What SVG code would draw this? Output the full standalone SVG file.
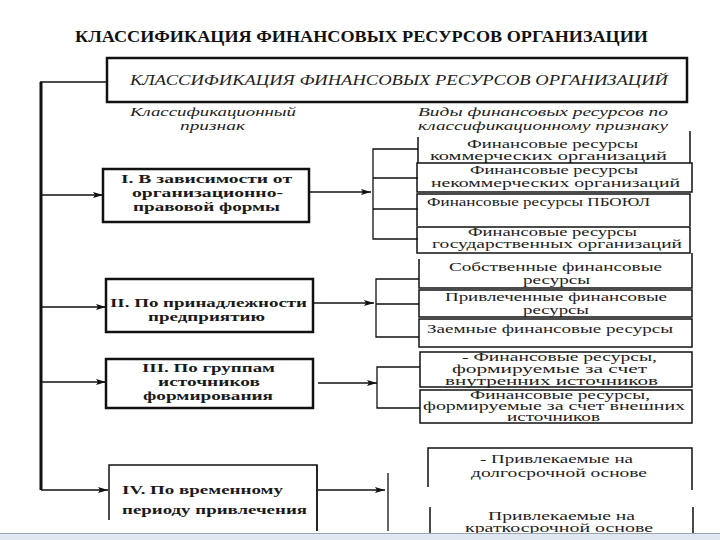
<svg xmlns="http://www.w3.org/2000/svg" width="720" height="540" viewBox="0 0 720 540">
<style>
.title{font-family:"Liberation Serif","Times New Roman",serif;font-weight:bold;font-size:16px;fill:#111}
.it{font-family:"Liberation Serif","Times New Roman",serif;font-style:italic;font-size:14px;fill:#222}
.sh{font-family:"Liberation Serif","Times New Roman",serif;font-style:italic;font-size:12.5px;fill:#222}
.b{font-family:"Liberation Serif","Times New Roman",serif;font-weight:bold;font-size:13px;fill:#1a1a1a}
.t{font-family:"Liberation Serif","Times New Roman",serif;font-size:11.5px;fill:#222}
.box{fill:none;stroke:#111;stroke-width:1.5}
.lbox{fill:none;stroke:#111;stroke-width:2.5}
.ln{fill:none;stroke:#111;stroke-width:1.3}
.arr{fill:none;stroke:#111;stroke-width:1.3;marker-end:url(#ah)}
</style>
<defs>
<marker id="ah" viewBox="0 0 10 6" refX="10" refY="3" markerWidth="10" markerHeight="6" markerUnits="userSpaceOnUse" orient="auto">
<path d="M0,0 L10,3 L0,6 L2,3 Z" fill="#111"/>
</marker>
</defs>
<rect width="720" height="540" fill="#fff"/>
<text class="title" x="75" y="42" textLength="573" lengthAdjust="spacingAndGlyphs">КЛАССИФИКАЦИЯ ФИНАНСОВЫХ РЕСУРСОВ ОРГАНИЗАЦИИ</text>

<g id="header">
<rect x="107" y="58" width="580" height="44" class="lbox" stroke-width="2"/>
<text class="it" x="130" y="85" textLength="538" lengthAdjust="spacingAndGlyphs">КЛАССИФИКАЦИЯ ФИНАНСОВЫХ РЕСУРСОВ ОРГАНИЗАЦИЙ</text>
</g>
<g id="subheads">
<text class="sh" x="130" y="116" textLength="166" lengthAdjust="spacingAndGlyphs">Классификационный</text>
<text class="sh" x="180" y="130" textLength="65" lengthAdjust="spacingAndGlyphs">признак</text>
<text class="sh" x="418" y="116" textLength="250" lengthAdjust="spacingAndGlyphs">Виды финансовых ресурсов по</text>
<text class="sh" x="418" y="130" textLength="250" lengthAdjust="spacingAndGlyphs">классификационному признаку</text>
</g>

<g id="connectors">
<path d="M41,82 V490" fill="none" stroke="#111" stroke-width="3"/>
<path d="M40,82 H107" class="ln" stroke-width="2"/>
<path d="M42,195 H103" class="arr"/>
<path d="M42,307 H106" class="arr"/>
<path d="M42,382 H106" class="arr"/>
<path d="M41,490 H108" class="arr"/>
<path d="M310,192 H371" class="arr"/>
<path d="M314,303 H374" class="arr"/>
<path d="M318,383 H377" class="arr" stroke-width="2"/>
<path d="M318,490 H385" class="arr"/>
<path d="M418,149 H373 V239 H418 M373,178 H418 M373,209 H418" class="ln"/>
<path d="M419,279 H376 V337 H419 M376,304 H419" class="ln"/>
<path d="M420,367 H377 V408 H420" class="ln"/>
<path d="M388,473 V531" class="ln"/>
</g>

<g id="n1">
<rect x="103" y="169" width="206" height="53" class="lbox"/>
<text class="b" x="121" y="183" textLength="171" lengthAdjust="spacingAndGlyphs">I. В зависимости от</text>
<text class="b" x="132" y="197" textLength="151" lengthAdjust="spacingAndGlyphs">организационно-</text>
<text class="b" x="133" y="211" textLength="147" lengthAdjust="spacingAndGlyphs">правовой формы</text>
</g>
<g id="n2">
<rect x="106" y="279" width="207" height="53" class="lbox"/>
<text class="b" x="110" y="307" textLength="197" lengthAdjust="spacingAndGlyphs">II. По принадлежности</text>
<text class="b" x="148" y="321" textLength="117" lengthAdjust="spacingAndGlyphs">предприятию</text>
</g>
<g id="n3">
<rect x="106" y="359" width="207" height="49" class="lbox"/>
<text class="b" x="142" y="372" textLength="133" lengthAdjust="spacingAndGlyphs">III. По группам</text>
<text class="b" x="158" y="386" textLength="102" lengthAdjust="spacingAndGlyphs">источников</text>
<text class="b" x="143" y="400" textLength="130" lengthAdjust="spacingAndGlyphs">формирования</text>
</g>
<g id="n4">
<path d="M109,520 V465 H317 V531" class="box"/>
<path d="M317,465 V531" class="ln" stroke-width="2.5"/>
<text class="b" x="122" y="494" textLength="161" lengthAdjust="spacingAndGlyphs">IV. По временному</text>
<text class="b" x="122" y="514" textLength="185" lengthAdjust="spacingAndGlyphs">периоду привлечения</text>
</g>

<g id="r1">
<path d="M418,137 V163 M690,131 V163" class="box"/>
<text class="t" x="467" y="148" textLength="171" lengthAdjust="spacingAndGlyphs">Финансовые ресурсы</text>
<text class="t" x="430" y="160" textLength="237" lengthAdjust="spacingAndGlyphs">коммерческих организаций</text>
</g>
<g id="r2">
<rect x="417" y="163" width="275" height="29" class="box"/>
<text class="t" x="470" y="174" textLength="168" lengthAdjust="spacingAndGlyphs">Финансовые ресурсы</text>
<text class="t" x="431" y="187" textLength="249" lengthAdjust="spacingAndGlyphs">некоммерческих организаций</text>
</g>
<g id="r3">
<path d="M417,226 V194 H690 V226" class="box"/>
<text class="t" x="427" y="206" textLength="223" lengthAdjust="spacingAndGlyphs">Финансовые ресурсы ПБОЮЛ</text>
</g>
<g id="r4">
<rect x="417" y="227" width="273" height="26" class="box"/>
<text class="t" x="468" y="236" textLength="169" lengthAdjust="spacingAndGlyphs">Финансовые ресурсы</text>
<text class="t" x="432" y="248" textLength="250" lengthAdjust="spacingAndGlyphs">государственных организаций</text>
</g>
<g id="r5">
<path d="M419,259 V288 H692 V253" class="box"/>
<text class="t" x="449" y="271" textLength="213" lengthAdjust="spacingAndGlyphs">Собственные финансовые</text>
<text class="t" x="523" y="284" textLength="67" lengthAdjust="spacingAndGlyphs">ресурсы</text>
</g>
<g id="r6">
<rect x="419" y="290" width="273" height="27" class="box"/>
<text class="t" x="445" y="301" textLength="222" lengthAdjust="spacingAndGlyphs">Привлеченные финансовые</text>
<text class="t" x="523" y="314" textLength="66" lengthAdjust="spacingAndGlyphs">ресурсы</text>
</g>
<g id="r7">
<rect x="419" y="319" width="273" height="28" class="box"/>
<text class="t" x="427" y="333" textLength="246" lengthAdjust="spacingAndGlyphs">Заемные финансовые ресурсы</text>
</g>
<g id="r8">
<rect x="420" y="352" width="272" height="35" class="box"/>
<text class="t" x="462" y="361" textLength="195" lengthAdjust="spacingAndGlyphs">- Финансовые ресурсы,</text>
<text class="t" x="452" y="373" textLength="195" lengthAdjust="spacingAndGlyphs">формируемые за счет</text>
<text class="t" x="445" y="385" textLength="213" lengthAdjust="spacingAndGlyphs">внутренних источников</text>
</g>
<g id="r9">
<rect x="420" y="390" width="272" height="33" class="box"/>
<text class="t" x="470" y="399" textLength="180" lengthAdjust="spacingAndGlyphs">Финансовые ресурсы,</text>
<text class="t" x="423" y="410" textLength="262" lengthAdjust="spacingAndGlyphs">формируемые за счет внешних</text>
<text class="t" x="507" y="421" textLength="93" lengthAdjust="spacingAndGlyphs">источников</text>
</g>
<g id="r10">
<path d="M428,487 V448 H692 V490" class="box"/>
<text class="t" x="480" y="463" textLength="153" lengthAdjust="spacingAndGlyphs">- Привлекаемые на</text>
<text class="t" x="471" y="477" textLength="176" lengthAdjust="spacingAndGlyphs">долгосрочной основе</text>
</g>
<g id="r11">
<path d="M430,507 V533 M693,507 V533" class="box"/>
<text class="t" x="488" y="520" textLength="147" lengthAdjust="spacingAndGlyphs">Привлекаемые на</text>
<text class="t" x="465" y="532" textLength="188" lengthAdjust="spacingAndGlyphs">краткосрочной основе</text>
</g>

<rect x="0" y="533" width="720" height="7" fill="#dfe7f0"/>
<path d="M0,533.5 H720" stroke="#9aa8b5" stroke-width="1"/>
</svg>
